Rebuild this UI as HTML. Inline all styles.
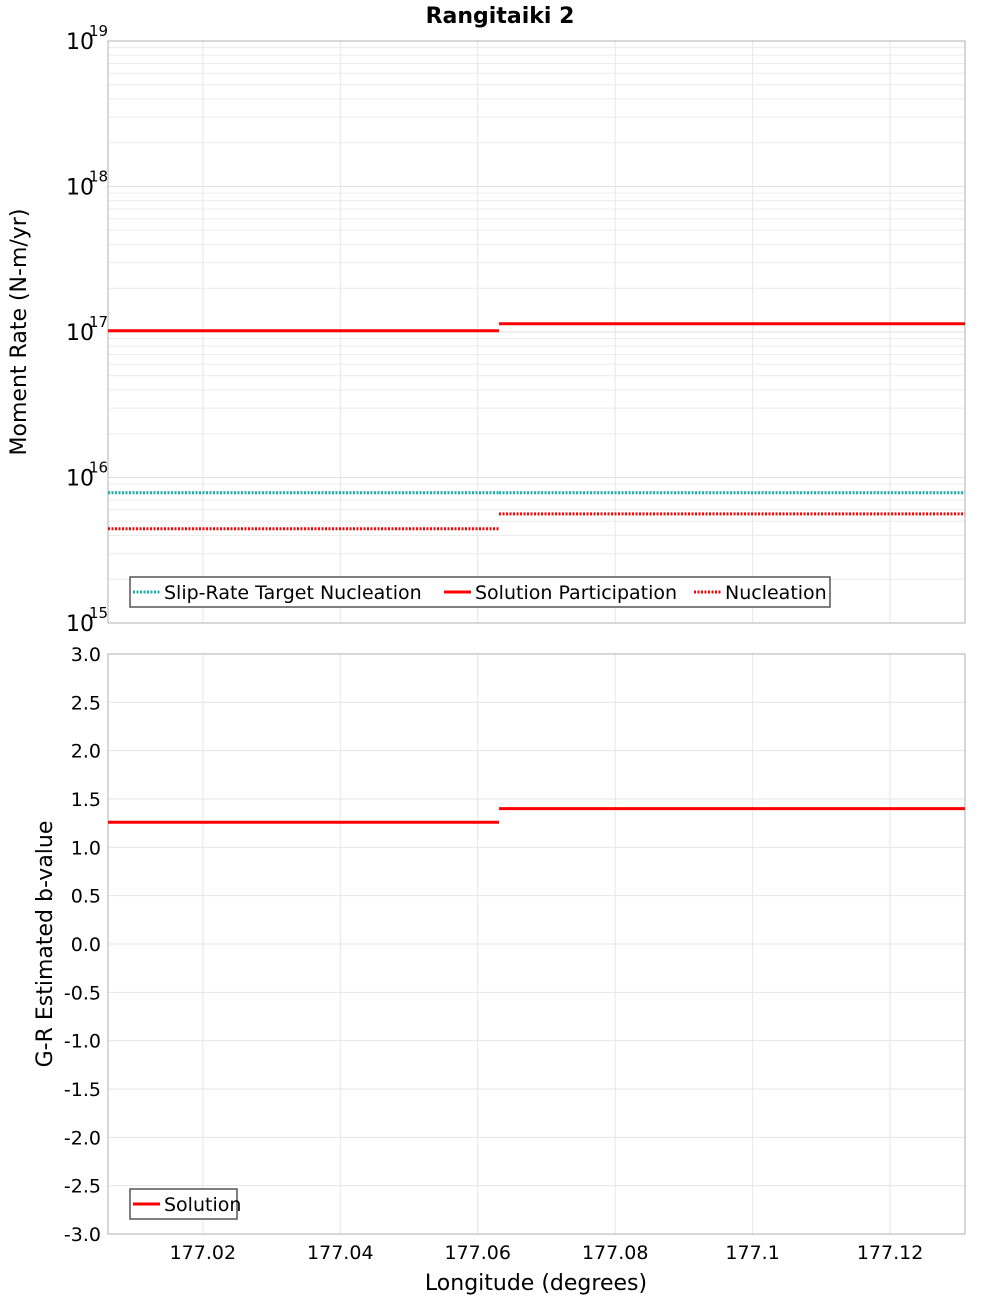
<!DOCTYPE html>
<html><head><meta charset="utf-8"><style>
body{margin:0;background:#fff;}
svg text{font-family:"DejaVu Sans","Liberation Sans",sans-serif;}
</style></head><body>
<svg id="chart" width="1000" height="1300" xmlns="http://www.w3.org/2000/svg">
<text x="500" y="23" text-anchor="middle" font-size="22" font-weight="bold">Rangitaiki 2</text>
<g id="topPlot"></g>
<g id="botPlot"></g>
<text transform="translate(26,332) rotate(-90)" text-anchor="middle" font-size="22">Moment Rate (N-m/yr)</text>
<text transform="translate(52,944) rotate(-90)" text-anchor="middle" font-size="22">G-R Estimated b-value</text>
<text x="536" y="1290" text-anchor="middle" font-size="22">Longitude (degrees)</text>
</svg>
<script>
const xTicks=[177.02,177.04,177.06,177.08,177.1,177.12];
const xTickLabels=["177.02","177.04","177.06","177.08","177.1","177.12"];
const segStarts=[177.0062,177.0631];
const segEnds=[177.0631,177.1309];
const solutionParticipation=[1.02e17,1.14e17];
const slipRateTarget=[7.85e15,7.85e15];
const nucleation=[4.44e15,5.62e15];
const bValues=[1.26,1.40];
const logTicks=[15,16,17,18,19];
const bTicks=[-3,-2.5,-2,-1.5,-1,-0.5,0,0.5,1,1.5,2,2.5,3];

const NS="http://www.w3.org/2000/svg";
const L=108,R=965,T1=41,B1=623,T2=654,B2=1234;
const xMin=177.0062,xMax=177.1309;
const X=v=>L+(v-xMin)/(xMax-xMin)*(R-L);
const Y1=v=>B1-(Math.log10(v)-15)/4*(B1-T1);
const Y2=v=>B2-(v+3)/6*(B2-T2);
function mk(p,tag,attrs){const e=document.createElementNS(NS,tag);for(const k in attrs)e.setAttribute(k,attrs[k]);p.appendChild(e);return e;}
const topG=document.getElementById('topPlot'),botG=document.getElementById('botPlot');

for(let d=15;d<19;d++)for(let m=1;m<10;m++){const y=Y1(m*Math.pow(10,d));
 const g=mk(topG,'line',{x1:L,x2:R,y1:y,y2:y,stroke:m==1?'#e0e0e0':'#ececec','stroke-width':1});
 
 }
for(const xt of xTicks){for(const [p,t,b] of [[topG,T1,B1],[botG,T2,B2]]){
 const g=mk(p,'line',{x1:X(xt),x2:X(xt),y1:t,y2:b,stroke:'#e6e6e6','stroke-width':1});
 
 }}
for(const bt of bTicks){const y=Y2(bt);
 const g=mk(botG,'line',{x1:L,x2:R,y1:y,y2:y,stroke:'#e6e6e6','stroke-width':1});
 
 
 const t=mk(botG,'text',{x:101,y:y+7,'text-anchor':'end','font-size':19});t.textContent=bt.toFixed(1);
 
 }
for(const e of logTicks){const y=Y1(Math.pow(10,e));
 const t=mk(topG,'text',{x:66,y:y+8,'font-size':22});t.textContent='10';
 
 
 const s=mk(topG,'text',{x:89,y:y-5,'font-size':15});s.textContent=String(e);
 
 }
for(let i=0;i<xTicks.length;i++){const t=mk(botG,'text',{x:X(xTicks[i]),y:1259,'text-anchor':'middle','font-size':19});t.textContent=xTickLabels[i];
 
 }
for(const [p,t,b] of [[topG,T1,B1],[botG,T2,B2]]){const r=mk(p,'rect',{x:L,y:t,width:R-L,height:b-t,fill:'none',stroke:'#b0b0b0','stroke-width':1});
 
 }
function seg(p,vals,yf,color,dash,name){for(let i=0;i<vals.length;i++){const y=yf(vals[i]);
 const a={x1:X(segStarts[i]),x2:X(segEnds[i]),y1:y,y2:y,stroke:color,'stroke-width':3};if(dash)a['stroke-dasharray']='2,1.5';
 const l=mk(p,'line',a);
 
 }}
seg(topG,slipRateTarget,Y1,'#1aaeae',true,'slip-rate-target-line');
seg(topG,nucleation,Y1,'#ff0000',true,'nucleation-line');
seg(topG,solutionParticipation,Y1,'#ff0000',false,'solution-participation-line');
seg(botG,bValues,Y2,'#ff0000',false,'b-value-line');
function legend(p,x,y,w,items,name){const g=mk(p,'g',{});
 
 
 mk(g,'rect',{x:x,y:y,width:w,height:30,fill:'#fff',stroke:'#555','stroke-width':1.5});
 let cx=x+3;for(const [lab,col,dash,tw] of items){const a={x1:cx,x2:cx+27,y1:y+15,y2:y+15,stroke:col,'stroke-width':3};if(dash)a['stroke-dasharray']='2,1.5';
  const ln=mk(g,'line',a);
  
  
  const t=mk(g,'text',{x:cx+31,y:y+22,'font-size':19});t.textContent=lab;
  
  
  cx+=31+tw+5;}}
legend(topG,130,577,700,[["Slip-Rate Target Nucleation",'#1aaeae',true,275],["Solution Participation",'#ff0000',false,214],["Nucleation",'#ff0000',true,110]],'legend-moment');
legend(botG,130,1189,107,[["Solution",'#ff0000',false,80]],'legend-bvalue');
</script>
</body></html>
